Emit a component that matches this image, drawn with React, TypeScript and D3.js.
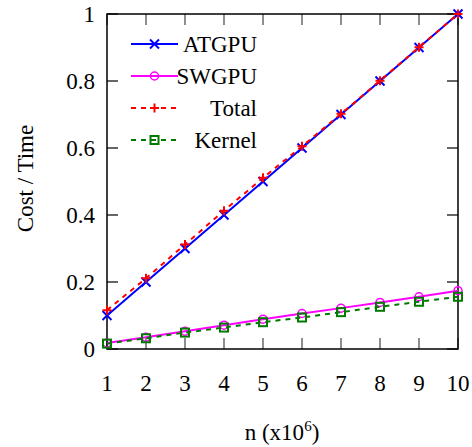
import React from 'react';
import * as d3 from 'd3';

const nValues = [1, 2, 3, 4, 5, 6, 7, 8, 9, 10];
const atgpu = [0.1, 0.2, 0.3, 0.4, 0.5, 0.6, 0.7, 0.8, 0.9, 1.0];
const swgpu = [0.018, 0.035, 0.053, 0.071, 0.089, 0.106, 0.122, 0.139, 0.156, 0.174];
const total = [0.116, 0.211, 0.312, 0.413, 0.511, 0.605, 0.702, 0.801, 0.901, 1.0];
const kernel = [0.016, 0.032, 0.049, 0.064, 0.08, 0.094, 0.11, 0.126, 0.141, 0.156];
const yTicks = [0, 0.2, 0.4, 0.6, 0.8, 1];
const yTickLabels = ['0', '0.2', '0.4', '0.6', '0.8', '1'];

const width = 472;
const height = 447;
const left = 107, right = 458, top = 14, bottom = 349;
const txt = { fontFamily: '"Liberation Serif"', fontSize: 23 };

type Series = { name: string; values: number[]; color: string; dash?: string; marker: string };

const series: Series[] = [
  { name: 'ATGPU', values: atgpu, color: '#0000ff', marker: 'x' },
  { name: 'SWGPU', values: swgpu, color: '#ff00ff', marker: 'o' },
  { name: 'Total', values: total, color: '#ff0000', dash: '5,5', marker: '+' },
  { name: 'Kernel', values: kernel, color: '#007a00', dash: '5,5', marker: 's' },
];

const Marker = ({ type, x, y, color }: { type: string; x: number; y: number; color: string }) => {
  const s = 4.5;
  if (type === 'x')
    return <path d={`M${x - s},${y - s}L${x + s},${y + s}M${x - s},${y + s}L${x + s},${y - s}`} stroke={color} strokeWidth={2} />;
  if (type === '+')
    return <path d={`M${x - s},${y}L${x + s},${y}M${x},${y - s}L${x},${y + s}`} stroke={color} strokeWidth={2} />;
  if (type === 'o')
    return <circle cx={x} cy={y} r={4} fill="none" stroke={color} strokeWidth={1.5} />;
  return <rect x={x - 4} y={y - 4} width={8} height={8} fill="none" stroke={color} strokeWidth={2} />;
};

export default function App() {
  const x = d3.scaleLinear().domain([1, 10]).range([left, right]);
  const y = d3.scaleLinear().domain([0, 1]).range([bottom, top]);
  const line = d3.line<number>().x((_, i) => x(nValues[i])).y(d => y(d));
  const tickLen = 11;

  return (
    <svg width={width} height={height} style={{ position: 'absolute', left: 0, top: 0, background: '#fff' }}>
      {/* ticks */}
      {nValues.map(n => (
        <g key={'xt' + n}>
          <line x1={x(n)} x2={x(n)} y1={bottom} y2={bottom - tickLen} stroke="#444" strokeWidth={1.2} />
          <line x1={x(n)} x2={x(n)} y1={top} y2={top + tickLen} stroke="#444" strokeWidth={1.2} />
          <text x={x(n)} y={391} textAnchor="middle" style={txt}>{n}</text>
        </g>
      ))}
      {yTicks.map((t, i) => (
        <g key={'yt' + t}>
          <line x1={left} x2={left + tickLen} y1={y(t)} y2={y(t)} stroke="#000" strokeWidth={1.2} />
          <line x1={right} x2={right - tickLen} y1={y(t)} y2={y(t)} stroke="#000" strokeWidth={1.2} />
          <text x={95} y={y(t)} dy="0.35em" textAnchor="end" style={txt}>{yTickLabels[i]}</text>
        </g>
      ))}
      <rect x={left} y={top} width={right - left} height={bottom - top} fill="none" stroke="#000" strokeWidth={1.5} />

      {/* series */}
      {series.map(s => (
        <g key={s.name}>
          <path d={line(s.values) || ''} fill="none" stroke={s.color} strokeWidth={2} strokeDasharray={s.dash} />
          {s.values.map((v, i) => (
            <Marker key={i} type={s.marker} x={x(nValues[i])} y={y(v)} color={s.color} />
          ))}
        </g>
      ))}

      {/* legend */}
      {series.map((s, i) => {
        const ly = 44 + i * 32;
        return (
          <g key={'lg' + s.name}>
            <line x1={131} x2={178} y1={ly} y2={ly} stroke={s.color} strokeWidth={2} strokeDasharray={s.dash} />
            <Marker type={s.marker} x={154.5} y={ly} color={s.color} />
            <text x={257} y={ly} dy="0.35em" textAnchor="end" style={txt}>{s.name}</text>
          </g>
        );
      })}

      {/* axis titles */}
      <text transform={`translate(33,${(top + bottom) / 2 - 3}) rotate(-90)`} textAnchor="middle" style={txt}>Cost / Time</text>
      <text x={282} y={440} textAnchor="middle" style={txt}>
        n (x10<tspan style={{ fontSize: 15 }} dy={-9}>6</tspan><tspan dy={9}>)</tspan>
      </text>
    </svg>
  );
}
